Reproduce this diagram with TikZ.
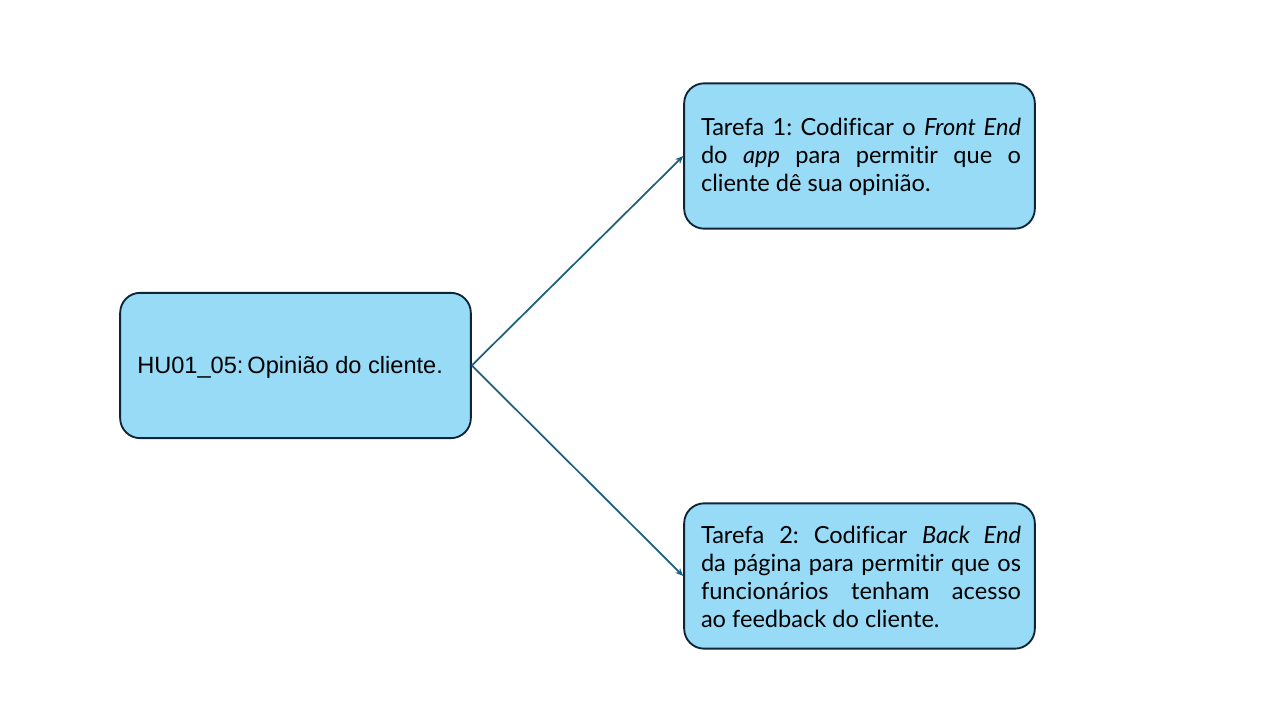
\documentclass[tikz,border=0pt]{standalone}
\usepackage{fontspec}
\usetikzlibrary{arrows.meta}
\setmainfont{Lato}[Ligatures={NoCommon}]
\newfontfamily\arialfont{Liberation Sans}
\definecolor{boxfill}{HTML}{97DBF7}
\definecolor{boxline}{HTML}{0E2538}
\definecolor{arrowcol}{HTML}{1C5F7E}
\frenchspacing
\begin{document}
\begin{tikzpicture}[x=0.75pt,y=-0.75pt,
  card/.style={draw=boxline, fill=boxfill, line width=1.4pt, rounded corners=15pt,
    minimum width=263pt, minimum height=109pt, inner sep=0pt},
  tasktext/.style={text width=240pt, align=justify, inner sep=0pt, font=\frenchspacing\fontsize{17.7}{21}\selectfont},
  link/.style={draw=arrowcol, line width=1.3pt, -{Stealth[length=6pt,width=5pt]}}]
\useasboundingbox (0,0) rectangle (1280,720);
\node[card] (hu) at (295.5,365.5) {};
\node[font=\arialfont\fontsize{17.7}{21}\selectfont, anchor=west, inner sep=0pt] (hut) at (137,367) {HU01\_05:\,Opinião do cliente.};
\node[card] (t1) at (859.5,156) {};
\node[tasktext] (t1t) at (861,157) {Tarefa 1: Codificar o \textit{Front End}\linebreak do \textit{app} para permitir que o\linebreak cliente dê sua opinião.};
\node[card] (t2) at (859.5,576) {};
\node[tasktext] (t2t) at (861,577) {Tarefa 2: Codificar \textit{Back End}\linebreak da página para permitir que os\linebreak funcionários tenham acesso\linebreak ao feedback do cliente.};
\draw[link] (hu.east) -- (t1.west);
\draw[link] (hu.east) -- (t2.west);
\end{tikzpicture}
\end{document}
